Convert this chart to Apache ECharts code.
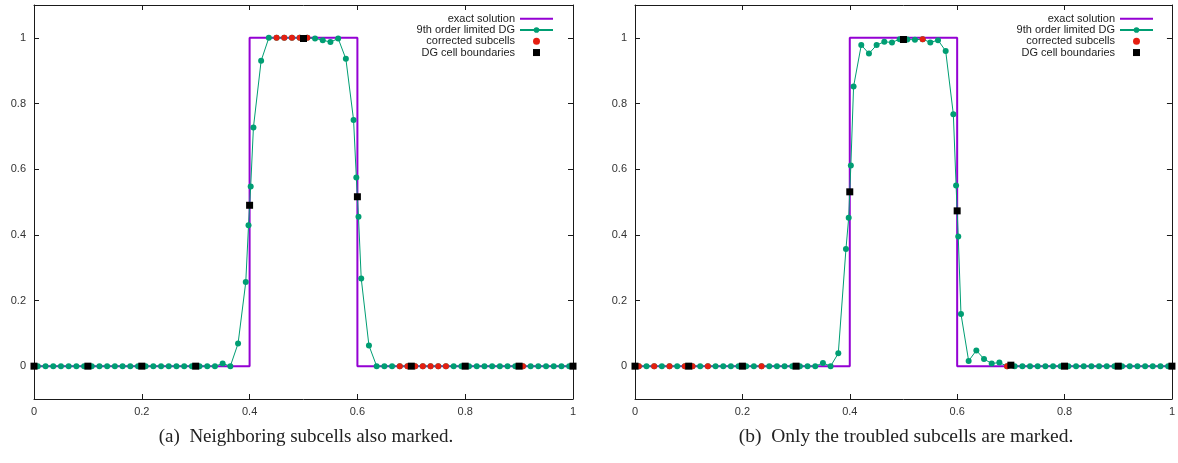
<!DOCTYPE html>
<html>
<head>
<meta charset="utf-8">
<script src="https://cdn.jsdelivr.net/npm/echarts@6/dist/echarts.min.js"></script>
<style>
  html, body { margin: 0; padding: 0; background: #fff; }
  #chart { width: 1178px; height: 463px; }
</style>
</head>
<body>
<div id="chart"></div>
<script>
// Axis ticks shared by both panels
const xTicks = [0, 0.2, 0.4, 0.6, 0.8, 1];
const yTicks = [0, 0.2, 0.4, 0.6, 0.8, 1];

// Exact square-wave solution
const exactX = [0, 0.4, 0.4, 0.6, 0.6, 1];
const exactY = [0, 0, 1, 1, 0, 0];

// Plot positions of the limited DG solution: 7 subcell centres per cell,
// plus the one-sided cell-edge values around the two jumps
const dgX = [
  0.0071, 0.0214, 0.0357, 0.05, 0.0643, 0.0786, 0.0929,
  0.1071, 0.1214, 0.1357, 0.15, 0.1643, 0.1786, 0.1929,
  0.2071, 0.2214, 0.2357, 0.25, 0.2643, 0.2786, 0.2929,
  0.3071, 0.3214, 0.3357, 0.35, 0.3643, 0.3786, 0.3929, 0.398,
  0.402, 0.4071, 0.4214, 0.4357, 0.45, 0.4643, 0.4786, 0.4929,
  0.5071, 0.5214, 0.5357, 0.55, 0.5643, 0.5786, 0.5929, 0.598,
  0.602, 0.6071, 0.6214, 0.6357, 0.65, 0.6643, 0.6786, 0.6929,
  0.7071, 0.7214, 0.7357, 0.75, 0.7643, 0.7786, 0.7929,
  0.8071, 0.8214, 0.8357, 0.85, 0.8643, 0.8786, 0.8929,
  0.9071, 0.9214, 0.9357, 0.95, 0.9643, 0.9786, 0.9929
];

// (a) neighbouring subcells also marked
const dgA = [
  0, 0, 0, 0, 0, 0, 0,
  0, 0, 0, 0, 0, 0, 0,
  0, 0, 0, 0, 0, 0, 0,
  0, 0, 0, 0.008, 0, 0.069, 0.256, 0.429,
  0.547, 0.727, 0.93, 1, 1, 1, 1, 1,
  1, 0.998, 0.993, 0.987, 0.998, 0.936, 0.75, 0.575,
  0.455, 0.267, 0.063, 0, 0, 0, 0, 0,
  0, 0, 0, 0, 0, 0, 0,
  0, 0, 0, 0, 0, 0, 0,
  0, 0, 0, 0, 0, 0, 0
];
const correctedAX = [0.45, 0.4643, 0.4786, 0.4929, 0.5071, 0.6786, 0.6929,
                     0.7071, 0.7214, 0.7357, 0.75, 0.7643, 0.9071];
const correctedAY = [1, 1, 1, 1, 1, 0, 0, 0, 0, 0, 0, 0, 0];

// (b) only troubled subcells marked
const dgB = [
  0, 0, 0, 0, 0, 0, 0,
  0, 0, 0, 0, 0, 0, 0,
  0, 0, 0, 0, 0, 0, 0,
  0, 0, 0, 0.01, 0, 0.039, 0.357, 0.452,
  0.611, 0.852, 0.978, 0.952, 0.978, 0.988, 0.986, 0.996,
  0.995, 0.994, 0.996, 0.986, 0.993, 0.96, 0.767, 0.55,
  0.395, 0.159, 0.016, 0.048, 0.022, 0.008, 0.011, 0,
  0, 0, 0, 0, 0, 0, 0,
  0, 0, 0, 0, 0, 0, 0,
  0, 0, 0, 0, 0, 0, 0
];
const correctedBX = [0.0071, 0.0357, 0.0643, 0.0929, 0.1071, 0.1357, 0.2357, 0.5357, 0.6929];
const correctedBY = [0, 0, 0, 0, 0, 0, 0, 0.996, 0];

// DG cell boundaries and the solution value there
const boundsX = [0, 0.1, 0.2, 0.3, 0.4, 0.5, 0.6, 0.7, 0.8, 0.9, 1];
const boundsA = [0, 0, 0, 0, 0.49, 0.998, 0.516, 0, 0, 0, 0];
const boundsB = [0, 0, 0, 0, 0.531, 0.995, 0.473, 0.003, 0, 0, 0];

const names = ['exact solution', '9th order limited DG', 'corrected subcells', 'DG cell boundaries'];
const captions = ['(a)  Neighboring subcells also marked.', '(b)  Only the troubled subcells are marked.'];

const zip = (xs, ys) => xs.map((x, i) => [x, ys[i]]);

const SANS = 'Liberation Sans';
const SERIF = 'Liberation Serif';
const BORDER = '#1a1a1a';
const PURPLE = '#9400d3';
const GREEN = '#009e73';
const RED = '#e51e10';

const grids = [
  { left: 34, right: 605, top: 5, bottom: 64 },
  { left: 635, right: 4, top: 5, bottom: 64 }
];

const xAxes = [], yAxes = [];
grids.forEach((g, gi) => {
  ['bottom', 'top'].forEach(pos => {
    xAxes.push({
      type: 'value', gridIndex: gi, position: pos, min: 0, max: 1, interval: 0.2,
      axisLine: { show: true, onZero: false, lineStyle: { color: BORDER, width: 1 } },
      axisTick: { show: true, inside: true, length: 5, lineStyle: { color: BORDER }, customValues: xTicks },
      axisLabel: { show: pos === 'bottom', margin: 7, fontFamily: SANS, fontSize: 11, color: '#333', customValues: xTicks },
      splitLine: { show: false }
    });
  });
  ['left', 'right'].forEach(pos => {
    yAxes.push({
      type: 'value', gridIndex: gi, position: pos, min: -0.1, max: 1.1,
      axisLine: { show: true, onZero: false, lineStyle: { color: BORDER, width: 1 } },
      axisTick: { show: true, inside: true, length: 5, lineStyle: { color: BORDER }, customValues: yTicks },
      axisLabel: { show: pos === 'left', margin: 8, fontFamily: SANS, fontSize: 11, color: '#333', customValues: yTicks,
                   formatter: v => String(Math.round(v * 10) / 10) },
      splitLine: { show: false }
    });
  });
});

function panelSeries(gi, dg, redX, redY, bounds) {
  const ax = { xAxisIndex: gi * 2, yAxisIndex: gi * 2 };
  return [
    Object.assign({
      name: names[0], type: 'line', data: zip(exactX, exactY), showSymbol: false, symbol: 'none',
      lineStyle: { color: PURPLE, width: 2 }, itemStyle: { color: PURPLE }, z: 2, silent: true
    }, ax),
    Object.assign({
      name: names[1], type: 'line', data: zip(dgX, dg), symbol: 'circle', symbolSize: 6, showSymbol: true,
      lineStyle: { color: GREEN, width: 1 }, itemStyle: { color: GREEN }, z: 3, clip: false, silent: true
    }, ax),
    Object.assign({
      name: names[2], type: 'scatter', data: zip(redX, redY), symbol: 'circle', symbolSize: 6,
      itemStyle: { color: RED, opacity: 1 }, z: 4, clip: false, silent: true
    }, ax),
    Object.assign({
      name: names[3], type: 'scatter', data: zip(boundsX, bounds), symbol: 'rect', symbolSize: 7,
      itemStyle: { color: '#000', opacity: 1 }, z: 5, clip: false, silent: true
    }, ax)
  ];
}

function legendFor(right) {
  return {
    data: [
      { name: names[0], icon: 'path://M0,0H33V2H0Z' },
      { name: names[1] },
      { name: names[2], icon: 'circle' },
      { name: names[3], icon: 'path://M0,0H10V10H0Z' }
    ],
    orient: 'vertical', right: right, top: 8, align: 'right',
    itemWidth: 33, itemHeight: 7, itemGap: 0, selectedMode: false, symbolKeepAspect: true,
    textStyle: { fontFamily: SANS, fontSize: 11, color: '#222', lineHeight: 11.3 }
  };
}

const chart = echarts.init(document.getElementById('chart'), null, { renderer: 'canvas' });
chart.setOption({
  animation: false,
  backgroundColor: '#fff',
  grid: grids,
  xAxis: xAxes,
  yAxis: yAxes,
  legend: [legendFor(619), legendFor(19)],
  series: [].concat(
    panelSeries(0, dgA, correctedAX, correctedAY, boundsA),
    panelSeries(1, dgB, correctedBX, correctedBY, boundsB)
  ),
  graphic: [
    { type: 'text', x: 306, y: 437, style: { text: captions[0], font: '19px "' + SERIF + '"', fill: '#222', align: 'center', verticalAlign: 'middle' } },
    { type: 'text', x: 906, y: 437, style: { text: captions[1], font: '19.5px "' + SERIF + '"', fill: '#222', align: 'center', verticalAlign: 'middle' } }
  ]
});
</script>
</body>
</html>
